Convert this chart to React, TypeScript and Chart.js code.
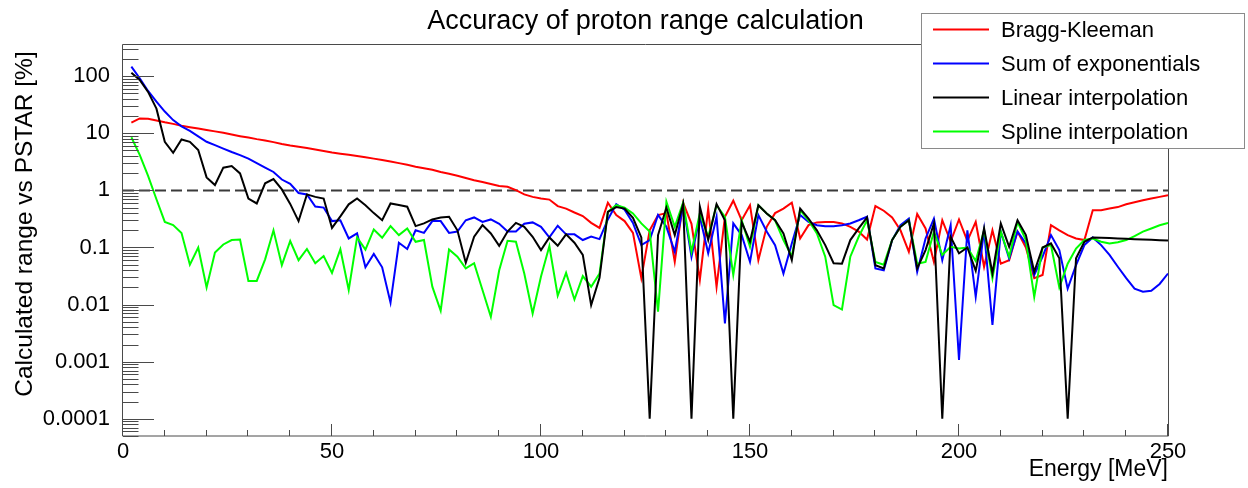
import { useEffect, useRef } from "react";
import { Chart, registerables } from "chart.js";

Chart.register(...registerables);

const FONT = "'Liberation Sans', Arial, Helvetica, sans-serif";

const chartTitle = "Accuracy of proton range calculation";
const xTitle = "Energy [MeV]";
const yTitle = "Calculated range vs PSTAR [%]";

const energies = [
  2, 4, 6, 8, 10, 12, 14, 16, 18, 20,
  22, 24, 26, 28, 30, 32, 34, 36, 38, 40,
  42, 44, 46, 48, 50, 52, 54, 56, 58, 60,
  62, 64, 66, 68, 70, 72, 74, 76, 78, 80,
  82, 84, 86, 88, 90, 92, 94, 96, 98, 100,
  102, 104, 106, 108, 110, 112, 114, 116, 118, 120,
  122, 124, 126, 128, 130, 132, 134, 136, 138, 140,
  142, 144, 146, 148, 150, 152, 154, 156, 158, 160,
  162, 164, 166, 168, 170, 172, 174, 176, 178, 180,
  182, 184, 186, 188, 190, 192, 194, 196, 198, 200,
  202, 204, 206, 208, 210, 212, 214, 216, 218, 220,
  222, 224, 226, 228, 230, 232, 234, 236, 238, 240,
  242, 244, 246, 248, 250,
];

const braggKleeman = [
  15.3, 18.2, 18.0, 16.8, 15.6, 14.6, 13.6, 12.8, 12.1, 11.4,
  10.8, 10.2, 9.5, 8.9, 8.4, 7.9, 7.5, 7.0, 6.5, 6.1,
  5.8, 5.5, 5.2, 4.9, 4.6, 4.4, 4.2, 4.0, 3.8, 3.6,
  3.4, 3.2, 3.0, 2.8, 2.6, 2.45, 2.3, 2.1, 1.95, 1.8,
  1.65, 1.5, 1.4, 1.29, 1.19, 1.16, 1.01, 0.85, 0.77, 0.72,
  0.69, 0.53, 0.48, 0.41, 0.355, 0.27, 0.22, 0.61, 0.37, 0.29,
  0.18, 0.029, 0.2, 0.37, 0.4, 0.056, 0.61, 0.26, 0.027, 0.48,
  0.0205, 0.345, 0.66, 0.3, 0.55, 0.06, 0.23, 0.4, 0.48, 0.61,
  0.144, 0.246, 0.275, 0.28, 0.28, 0.264, 0.23, 0.19, 0.138, 0.53,
  0.44, 0.336, 0.2, 0.084, 0.385, 0.216, 0.056, 0.3, 0.127, 0.31,
  0.13, 0.28, 0.046, 0.2, 0.052, 0.06, 0.19, 0.1, 0.029, 0.033,
  0.247, 0.2, 0.165, 0.144, 0.135, 0.45, 0.45, 0.48, 0.51, 0.57,
  0.62, 0.67, 0.72, 0.77, 0.82,
];

const sumOfExponentials = [
  147, 92, 55, 36, 24, 17, 13.2, 11, 8.8, 7.1,
  6.2, 5.4, 4.7, 4.15, 3.6, 3.0, 2.5, 2.1, 1.55, 1.3,
  0.9, 0.85, 0.52, 0.5, 0.29, 0.3, 0.144, 0.177, 0.045, 0.077,
  0.045, 0.0108, 0.121, 0.094, 0.2, 0.18, 0.29, 0.29, 0.18, 0.19,
  0.3, 0.336, 0.28, 0.31, 0.26, 0.19, 0.19, 0.26, 0.275, 0.23,
  0.15, 0.24, 0.17, 0.17, 0.135, 0.155, 0.14, 0.31, 0.575, 0.46,
  0.27, 0.11, 0.135, 0.37, 0.23, 0.084, 0.55, 0.069, 0.345, 0.079,
  0.345, 0.0047, 0.264, 0.165, 0.056, 0.37, 0.19, 0.11, 0.035, 0.117,
  0.37, 0.28, 0.246, 0.236, 0.236, 0.246, 0.264, 0.3, 0.345, 0.043,
  0.04, 0.135, 0.246, 0.32, 0.0376, 0.144, 0.32, 0.06, 0.246, 0.00107,
  0.2, 0.0137, 0.2, 0.0044, 0.19, 0.064, 0.19, 0.118, 0.033, 0.069,
  0.165, 0.09, 0.019, 0.049, 0.11, 0.15, 0.11, 0.074, 0.046, 0.029,
  0.019, 0.0168, 0.0174, 0.023, 0.035,
];

const linearInterpolation = [
  115, 86, 53, 27, 7.1, 4.56, 7.8, 7.1, 5.1, 1.69,
  1.24, 2.5, 2.67, 1.98, 0.72, 0.59, 1.33, 1.58, 1.04, 0.58,
  0.29, 0.85, 0.77, 0.72, 0.22, 0.35, 0.57, 0.72, 0.55, 0.4,
  0.3, 0.59, 0.553, 0.517, 0.237, 0.264, 0.31, 0.336, 0.345, 0.2,
  0.054, 0.154, 0.247, 0.176, 0.107, 0.19, 0.27, 0.23, 0.154, 0.09,
  0.15, 0.107, 0.17, 0.121, 0.074, 0.0098, 0.0295, 0.42, 0.51, 0.48,
  0.33, 0.15, 0.0001, 0.165, 0.5, 0.165, 0.575, 0.0001, 0.52, 0.135,
  0.575, 0.3, 0.0001, 0.28, 0.126, 0.55, 0.395, 0.3, 0.176, 0.06,
  0.48, 0.32, 0.2, 0.11, 0.053, 0.052, 0.135, 0.216, 0.336, 0.049,
  0.043, 0.135, 0.23, 0.3, 0.043, 0.09, 0.264, 0.0001, 0.154, 0.079,
  0.1, 0.039, 0.216, 0.035, 0.264, 0.103, 0.3, 0.165, 0.0376, 0.1,
  0.118, 0.065, 0.0001, 0.065, 0.126, 0.15, 0.148, 0.146, 0.144, 0.142,
  0.14, 0.138, 0.136, 0.134, 0.132,
];

const splineInterpolation = [
  8.5, 4.2, 1.8, 0.7, 0.28, 0.247, 0.18, 0.05, 0.1, 0.02,
  0.082, 0.113, 0.135, 0.138, 0.026, 0.026, 0.062, 0.2, 0.049, 0.13,
  0.06, 0.094, 0.053, 0.071, 0.036, 0.093, 0.018, 0.15, 0.092, 0.207,
  0.148, 0.237, 0.165, 0.216, 0.126, 0.135, 0.0206, 0.0078, 0.092, 0.069,
  0.043, 0.053, 0.018, 0.0061, 0.04, 0.131, 0.126, 0.035, 0.007, 0.031,
  0.106, 0.0143, 0.036, 0.0123, 0.0316, 0.0206, 0.035, 0.42, 0.55, 0.5,
  0.395, 0.264, 0.19, 0.0075, 0.63, 0.23, 0.61, 0.084, 0.395, 0.154,
  0.55, 0.345, 0.033, 0.3, 0.103, 0.55, 0.395, 0.3, 0.135, 0.07,
  0.45, 0.3, 0.176, 0.069, 0.0098, 0.0082, 0.069, 0.154, 0.3, 0.056,
  0.05, 0.135, 0.23, 0.3, 0.052, 0.056, 0.19, 0.074, 0.103, 0.096,
  0.1, 0.058, 0.2, 0.029, 0.19, 0.069, 0.28, 0.135, 0.0137, 0.1,
  0.11, 0.02, 0.052, 0.096, 0.135, 0.144, 0.126, 0.118, 0.124, 0.135,
  0.158, 0.19, 0.215, 0.245, 0.27,
];

const referenceLabel = "PSTAR reference";
const referenceX = [0, 250];
const referenceY = [1, 1];

const yTickValues = [0.0001, 0.001, 0.01, 0.1, 1, 10, 100];
const yTickLabels = ["0.0001", "0.001", "0.01", "0.1", "1", "10", "100"];
const xTickValues = [0, 50, 100, 150, 200, 250];
const xTickLabels = ["0", "50", "100", "150", "200", "250"];

const toPoints = (ys: number[]) => energies.map((x, i) => ({ x, y: ys[i] }));

const rootStylePlugin = {
  id: "rootStyle",
  afterDatasetsDraw(chart: any) {
    const { ctx, chartArea: a, scales } = chart;
    const xs = scales.x;
    const ys = scales.y;
    ctx.save();
    ctx.strokeStyle = "#4a4a4a";
    ctx.lineWidth = 1;
    ctx.beginPath();
    ctx.rect(Math.round(a.left) - 0.5, Math.round(a.top) + 0.5, Math.round(a.right - a.left) + 1, Math.round(a.bottom - a.top) - 0.5);
    ctx.stroke();
    ctx.beginPath();
    for (let e = -5; e <= 2; e++) {
      for (let m = 1; m <= 9; m++) {
        const v = m * Math.pow(10, e);
        if (v < ys.min || v > ys.max) continue;
        const py = Math.round(ys.getPixelForValue(v)) + 0.5;
        const len = m === 1 ? 31 : 15.5;
        ctx.moveTo(a.left, py);
        ctx.lineTo(a.left + len, py);
      }
    }
    for (let t = 0; t <= 250; t += 10) {
      const px = Math.round(xs.getPixelForValue(t)) - 0.5;
      const len = t % 50 === 0 ? 12 : 6;
      ctx.moveTo(px, a.bottom);
      ctx.lineTo(px, a.bottom - len);
    }
    ctx.stroke();
    ctx.restore();
  },
  afterDraw(chart: any) {
    const { ctx } = chart;
    ctx.save();
    ctx.fillStyle = "#000";
    ctx.font = `24.5px ${FONT}`;
    ctx.textAlign = "center";
    ctx.textBaseline = "alphabetic";
    ctx.translate(32, 224);
    ctx.rotate(-Math.PI / 2);
    ctx.fillText(yTitle, 0, 0);
    ctx.restore();

    ctx.save();
    const bx = 921, by = 13, bw = 323, bh = 135;
    ctx.fillStyle = "#fff";
    ctx.fillRect(bx, by, bw, bh);
    ctx.strokeStyle = "#8a8a8a";
    ctx.lineWidth = 1;
    ctx.strokeRect(bx + 0.5, by + 0.5, bw, bh);
    const items = chart.data.datasets.filter((d: any) => d.label !== referenceLabel);
    ctx.font = `22px ${FONT}`;
    ctx.textAlign = "left";
    ctx.textBaseline = "alphabetic";
    items.forEach((d: any, i: number) => {
      const rowY = 29.5 + i * 34;
      ctx.strokeStyle = d.borderColor;
      ctx.lineWidth = 2;
      ctx.beginPath();
      ctx.moveTo(933, rowY);
      ctx.lineTo(989, rowY);
      ctx.stroke();
      ctx.fillStyle = "#000";
      ctx.fillText(d.label, 1001, rowY + 7.6);
    });
    ctx.restore();
  },
};

export default function App() {
  const canvasRef = useRef<HTMLCanvasElement | null>(null);

  useEffect(() => {
    const canvas = canvasRef.current;
    if (!canvas) return;
    const lineStyle = { borderWidth: 2, pointRadius: 0, tension: 0, fill: false };
    const chart = new Chart(canvas, {
      type: "line",
      data: {
        datasets: [
          { label: "Bragg-Kleeman", data: toPoints(braggKleeman), borderColor: "#ff0000", order: 4, ...lineStyle },
          { label: "Sum of exponentials", data: toPoints(sumOfExponentials), borderColor: "#0000ff", order: 3, ...lineStyle },
          { label: "Linear interpolation", data: toPoints(linearInterpolation), borderColor: "#000000", order: 1, ...lineStyle },
          { label: "Spline interpolation", data: toPoints(splineInterpolation), borderColor: "#00ff00", order: 2, ...lineStyle },
          {
            label: referenceLabel,
            data: referenceX.map((x, i) => ({ x, y: referenceY[i] })),
            borderColor: "#3a3a3a",
            borderDash: [11, 5],
            order: 5,
            ...lineStyle,
          },
        ],
      },
      options: {
        responsive: false,
        animation: false,
        devicePixelRatio: 1,
        events: [],
        layout: { padding: { left: 0, right: 80, top: 0, bottom: 0 } },
        plugins: {
          legend: { display: false },
          tooltip: { enabled: false },
          title: {
            display: true,
            text: chartTitle,
            fullSize: false,
            color: "#000",
            font: { family: FONT, size: 27, weight: "normal" },
            padding: { top: 5, bottom: 7 },
          },
        },
        scales: {
          x: {
            type: "linear",
            min: 0,
            max: 250,
            grid: { display: false, drawTicks: false },
            border: { display: false },
            afterBuildTicks: (s: any) => {
              s.ticks = xTickValues.map((v) => ({ value: v }));
            },
            afterFit: (s: any) => {
              s.height = 52;
            },
            ticks: {
              autoSkip: false,
              maxRotation: 0,
              padding: 3,
              color: "#000",
              font: { family: FONT, size: 22 },
              callback: (v: any) => {
                const i = xTickValues.indexOf(Number(v));
                return i >= 0 ? xTickLabels[i] : "";
              },
            },
            title: {
              display: true,
              text: xTitle,
              align: "end",
              color: "#000",
              font: { family: FONT, size: 23 },
              padding: { top: 0, bottom: 5 },
            },
          },
          y: {
            type: "logarithmic",
            min: 0.00005,
            max: 360,
            grid: { display: false, drawTicks: false },
            border: { display: false },
            afterBuildTicks: (s: any) => {
              s.ticks = yTickValues.map((v) => ({ value: v }));
            },
            afterFit: (s: any) => {
              s.width = 123;
            },
            ticks: {
              autoSkip: false,
              padding: 13,
              color: "#000",
              font: { family: FONT, size: 22 },
              callback: (v: any) => {
                const i = yTickValues.indexOf(Number(v));
                return i >= 0 ? yTickLabels[i] : "";
              },
            },
          },
        },
      } as any,
      plugins: [rootStylePlugin],
    });
    return () => chart.destroy();
  }, []);

  return (
    <div style={{ position: "fixed", left: 0, top: 0, width: 1248, height: 488, background: "#fff" }}>
      <canvas ref={canvasRef} width={1248} height={488} style={{ display: "block", width: 1248, height: 488 }} />
    </div>
  );
}
